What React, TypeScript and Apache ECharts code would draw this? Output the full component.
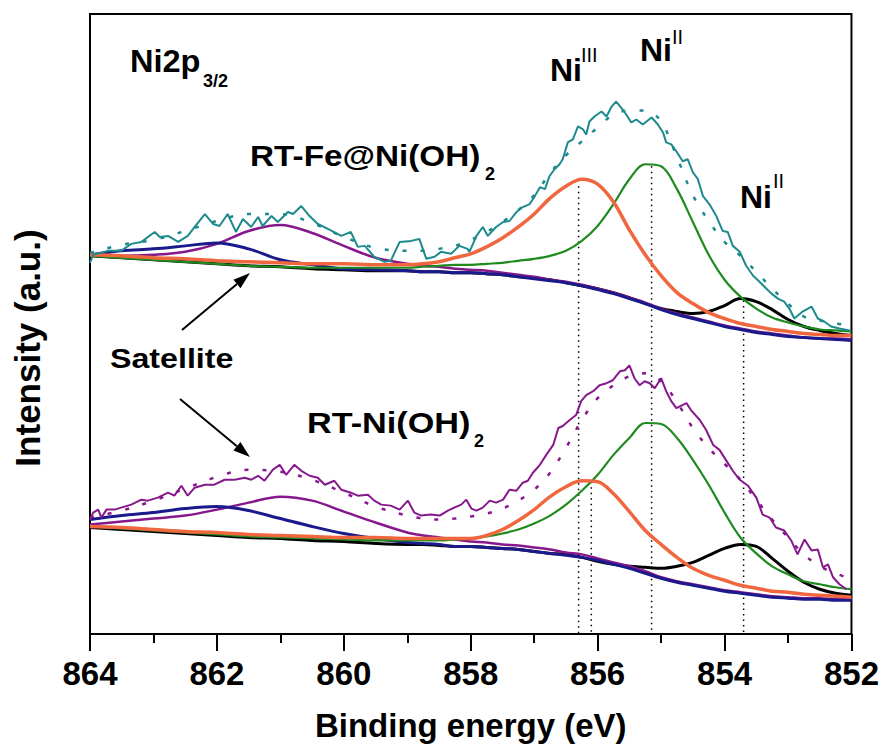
import React, { useEffect, useRef } from 'react';
import * as echarts from 'echarts';

// Shared energy grid (eV) for the fitted component curves
const energyGrid = [
  864, 863.5, 863, 862.5, 862, 861.5, 861, 860.5, 860, 859.5, 859,
  858.75, 858.5, 858.25, 858, 857.75, 857.5, 857.25, 857, 856.75, 856.5, 856.25, 856,
  855.75, 855.5, 855.25, 855, 854.75, 854.5, 854.25, 854, 853.75, 853.5, 853.25, 853,
  852.75, 852.5, 852.25, 852,
];

// RT-Fe@Ni(OH)2 fitted components (peak + background), a.u.
const feSatHigh = [38.1, 38.5, 38.7, 39.0, 39.3, 38.7, 37.6, 37.1, 36.7, 36.6, 36.5, 36.4, 36.4, 36.3, 36.3, 36.2, 36.1, 35.9, 35.7, 35.5, 35.3, 35.0, 34.6, 34.2, 33.7, 33.2, 32.6, 32.1, 31.7, 31.3, 30.9, 30.6, 30.3, 30.1, 29.9, 29.8, 29.7, 29.6, 29.5];
const feNi2Low = [38.0, 37.8, 37.6, 37.4, 37.2, 37.0, 36.9, 36.7, 36.6, 36.5, 36.5, 36.4, 36.4, 36.3, 36.3, 36.2, 36.1, 35.9, 35.8, 35.6, 35.3, 35.0, 34.7, 34.3, 33.8, 33.2, 32.7, 32.4, 32.2, 32.4, 33.0, 33.7, 33.4, 32.6, 31.6, 30.9, 30.5, 30.2, 30.0];
const feNi3 = [38.1, 38.0, 37.8, 37.7, 37.5, 37.4, 37.3, 37.2, 37.2, 37.1, 37.1, 37.2, 37.4, 37.8, 38.2, 38.9, 39.8, 40.9, 42.2, 43.8, 45.0, 45.7, 45.2, 43.4, 40.6, 38.1, 36.0, 34.3, 33.2, 32.3, 31.7, 31.2, 30.9, 30.6, 30.4, 30.2, 30.1, 30.0, 30.0];
const feNi2 = [38.0, 37.8, 37.6, 37.4, 37.2, 37.0, 36.9, 36.8, 36.8, 36.8, 36.8, 36.9, 37.0, 37.1, 37.1, 37.2, 37.3, 37.5, 37.7, 38.0, 38.5, 39.5, 41.0, 43.2, 45.7, 47.2, 47.0, 44.7, 41.4, 38.1, 35.6, 33.9, 32.7, 31.8, 31.3, 30.9, 30.6, 30.5, 30.4];
const feSatLow = [38.0, 38.0, 38.1, 38.4, 39.2, 40.5, 41.1, 40.3, 39.0, 37.8, 37.2, 37.0, 36.9, 36.7, 36.6, 36.5, 36.3, 36.1, 35.9, 35.6, 35.4, 35.1, 34.7, 34.3, 33.8, 33.3, 32.7, 32.2, 31.8, 31.4, 31.0, 30.7, 30.4, 30.2, 30.0, 29.8, 29.7, 29.7, 29.6];
const feEnvelope = [38.3, 39.1, 39.6, 40.5, 41.5, 42.2, 42.2, 41.3, 39.9, 38.8, 38.5, 38.5, 38.7, 39.0, 39.6, 40.4, 41.4, 42.6, 44.1, 46.3, 48.1, 49.5, 50.9, 52.2, 52.6, 52.6, 51.5, 47.9, 44.1, 41.5, 39.4, 38.0, 36.4, 34.7, 33.2, 31.9, 31.5, 31.2, 31.0];

// RT-Ni(OH)2 fitted components (peak + background), a.u.
const niSatHigh = [11.5, 11.9, 12.2, 12.6, 12.8, 12.4, 11.6, 10.8, 10.1, 9.6, 9.2, 9.1, 9.0, 8.8, 8.8, 8.7, 8.6, 8.5, 8.3, 8.1, 7.9, 7.7, 7.4, 7.0, 6.6, 6.1, 5.6, 5.2, 4.9, 4.6, 4.3, 4.1, 3.9, 3.7, 3.6, 3.5, 3.5, 3.4, 3.4];
const niNi2Low = [10.7, 10.5, 10.3, 10.1, 9.9, 9.7, 9.6, 9.4, 9.3, 9.1, 9.0, 9.0, 8.9, 8.8, 8.8, 8.7, 8.6, 8.5, 8.3, 8.1, 8.0, 7.7, 7.3, 7.0, 6.8, 6.7, 6.6, 6.8, 7.2, 7.9, 8.6, 9.0, 8.8, 7.6, 6.3, 5.2, 4.5, 4.1, 3.9];
const niNi3 = [10.8, 10.7, 10.5, 10.3, 10.2, 10.0, 9.9, 9.8, 9.7, 9.7, 9.6, 9.6, 9.6, 9.6, 9.6, 9.9, 10.5, 11.4, 12.5, 13.8, 14.8, 15.4, 15.3, 14.1, 12.3, 10.4, 9.0, 7.7, 6.6, 5.9, 5.4, 4.9, 4.6, 4.3, 4.2, 4.0, 3.9, 3.8, 3.7];
const niNi2 = [10.8, 10.6, 10.4, 10.2, 10.0, 9.8, 9.7, 9.6, 9.5, 9.4, 9.4, 9.4, 9.4, 9.5, 9.6, 9.8, 10.1, 10.5, 11.1, 11.9, 13.0, 14.4, 16.0, 18.0, 19.7, 21.2, 21.1, 19.7, 17.5, 15.0, 12.2, 9.7, 8.1, 6.8, 6.0, 5.3, 5.0, 4.7, 4.5];
const niSatLow = [11.0, 11.3, 11.6, 11.9, 12.5, 13.2, 13.8, 13.4, 12.3, 11.2, 10.2, 9.9, 9.7, 9.5, 9.3, 9.2, 9.0, 8.9, 8.7, 8.5, 8.2, 8.0, 7.6, 7.2, 6.8, 6.3, 5.7, 5.3, 5.0, 4.7, 4.4, 4.2, 4.0, 3.8, 3.7, 3.6, 3.6, 3.5, 3.5];
const niEnvelope = [11.7, 12.4, 13.4, 14.6, 15.8, 16.5, 16.3, 15.5, 14.2, 12.8, 11.9, 11.6, 11.5, 11.6, 11.8, 12.1, 12.6, 13.4, 14.5, 16.2, 18.7, 21.5, 23.7, 25.0, 25.9, 26.2, 25.4, 23.3, 20.7, 18.7, 17.1, 15.5, 13.5, 11.5, 9.7, 8.0, 6.8, 6.1, 5.5];

// Measured spectra
const feRawEnergy = [
  864.00, 863.95, 863.72, 863.51, 863.35, 863.19, 862.98, 862.90, 862.77, 862.61,
  862.46, 862.35, 862.19, 862.06, 861.96, 861.83, 861.70, 861.59, 861.46, 861.35,
  861.28, 861.14, 861.04, 860.88, 860.80, 860.67, 860.54, 860.41, 860.25, 860.04,
  859.89, 859.78, 859.67, 859.52, 859.36, 859.26, 859.12, 858.94, 858.81, 858.70,
  858.57, 858.47, 858.31, 858.18, 858.05, 858.02, 857.91, 857.81, 857.73, 857.60,
  857.49, 857.39, 857.28, 857.18, 857.07, 856.99, 856.91, 856.83, 856.76, 856.68,
  856.60, 856.55, 856.47, 856.39, 856.31, 856.23, 856.18, 856.13, 856.05, 855.94,
  855.86, 855.78, 855.71, 855.63, 855.55, 855.47, 855.39, 855.29, 855.15, 855.05,
  854.97, 854.92, 854.84, 854.76, 854.66, 854.58, 854.50, 854.42, 854.34, 854.24,
  854.13, 854.03, 853.95, 853.87, 853.76, 853.66, 853.55, 853.45, 853.34, 853.26,
  853.16, 853.06, 852.98, 852.90, 852.77, 852.63, 852.53, 852.43, 852.32, 852.19, 852.03,
];
const feRawIntensity = [
  37.3, 38.1, 38.5, 38.5, 39.2, 39.4, 40.4, 39.9, 40.0, 39.4,
  40.0, 40.9, 42.2, 41.2, 41.0, 42.2, 40.4, 41.7, 40.9, 41.9,
  41.0, 42.0, 41.4, 42.4, 42.2, 43.0, 42.0, 41.2, 40.7, 40.0,
  40.4, 38.9, 39.0, 37.9, 37.4, 37.5, 39.4, 39.5, 39.7, 37.7,
  37.9, 38.4, 38.2, 39.0, 38.7, 38.4, 40.0, 40.9, 40.0, 40.9,
  41.4, 41.5, 42.4, 42.9, 43.2, 44.0, 44.9, 44.7, 46.0, 46.7,
  47.2, 47.7, 49.4, 49.7, 51.0, 50.7, 50.2, 51.5, 52.0, 52.5,
  52.0, 53.0, 53.5, 52.9, 52.2, 51.4, 51.7, 51.2, 51.9, 51.2,
  50.4, 49.4, 49.2, 48.5, 47.5, 47.7, 46.4, 45.7, 44.0, 43.2,
  42.0, 40.5, 40.4, 39.0, 38.4, 37.0, 36.0, 35.4, 34.7, 34.2,
  33.7, 33.4, 32.7, 31.7, 32.4, 32.9, 31.7, 31.4, 30.9, 30.7, 30.5,
];
const niRawEnergy = [
  864.00, 863.95, 863.87, 863.82, 863.74, 863.61, 863.51, 863.35, 863.19, 863.09,
  862.93, 862.77, 862.67, 862.56, 862.46, 862.35, 862.19, 862.04, 861.88, 861.72,
  861.56, 861.46, 861.35, 861.25, 861.12, 861.01, 860.91, 860.78, 860.67, 860.54,
  860.41, 860.30, 860.15, 860.04, 859.89, 859.78, 859.62, 859.52, 859.41, 859.26,
  859.12, 858.99, 858.89, 858.78, 858.63, 858.49, 858.36, 858.26, 858.15, 858.07,
  857.99, 857.91, 857.81, 857.70, 857.60, 857.49, 857.39, 857.28, 857.18, 857.10,
  857.02, 856.91, 856.81, 856.70, 856.62, 856.55, 856.44, 856.34, 856.26, 856.18,
  856.07, 855.97, 855.86, 855.76, 855.65, 855.57, 855.50, 855.42, 855.34, 855.26,
  855.18, 855.10, 855.00, 854.92, 854.84, 854.76, 854.60, 854.53, 854.39, 854.29,
  854.18, 854.08, 853.97, 853.87, 853.76, 853.63, 853.50, 853.40, 853.29, 853.19,
  853.06, 852.95, 852.85, 852.74, 852.63, 852.53, 852.45, 852.37, 852.29, 852.19, 852.08,
];
const niRawIntensity = [
  11.5, 12.2, 12.5, 11.7, 12.5, 12.5, 12.7, 13.0, 13.5, 13.4,
  13.7, 14.2, 13.9, 14.9, 13.9, 14.7, 15.0, 15.0, 15.5, 15.5,
  15.7, 15.5, 15.9, 15.4, 16.5, 17.0, 16.0, 17.0, 16.4, 15.9,
  15.7, 15.0, 15.4, 14.5, 14.2, 13.9, 14.0, 13.4, 13.0, 12.9,
  12.5, 13.4, 12.2, 11.9, 12.0, 11.9, 12.4, 12.7, 13.0, 13.5,
  12.6, 12.4, 12.7, 13.4, 13.2, 13.5, 14.5, 14.4, 15.2, 15.4,
  16.2, 17.0, 18.0, 19.0, 20.7, 20.9, 21.5, 22.0, 23.4, 24.0,
  24.4, 25.0, 25.2, 25.5, 26.4, 26.5, 27.0, 25.7, 25.0, 25.4,
  25.2, 24.7, 25.7, 24.4, 23.4, 22.7, 23.2, 22.5, 21.5, 20.5,
  19.0, 18.5, 17.4, 16.4, 15.5, 14.9, 13.7, 12.0, 11.7, 10.7,
  10.4, 9.4, 8.0, 9.5, 8.4, 8.5, 6.7, 7.0, 5.7, 5.0, 4.5,
];

// Peak positions (eV) with the intensity where each guide line starts
const guideEnergies = [856.3, 855.15, 853.7, 856.1];
const guideTops = [45.0, 47.0, 33.5, 15.3];

const C = {
  teal: '#1d8a8c',
  purple: '#86188c',
  navy: '#1a1a8c',
  orange: '#f0663f',
  green: '#1f8b1f',
  black: '#000000',
};
const FONT = "'Liberation Sans', Arial, Helvetica, sans-serif";

const zip = (xs: number[], ys: number[]) => xs.map((x, i) => [x, ys[i]]);

const fitLine = (name: string, values: number[], color: string, width: number) => ({
  name,
  type: 'line',
  data: zip(energyGrid, values),
  smooth: 0.35,
  symbol: 'none',
  lineStyle: { color, width },
  silent: true,
});

const rawLine = (name: string, xs: number[], ys: number[], color: string) => ({
  name,
  type: 'line',
  data: zip(xs, ys),
  symbol: 'none',
  lineStyle: { color, width: 2 },
  silent: true,
});

const envelopeLine = (name: string, values: number[], color: string) => ({
  name,
  type: 'line',
  data: zip(energyGrid, values),
  smooth: 0.35,
  symbol: 'none',
  lineStyle: { color, width: 2.5, type: [4, 14] },
  silent: true,
});

const label = (text: string, x: number, y: number, size: number, opts: any = {}) => ({
  type: 'text',
  x,
  y,
  scaleX: opts.scaleX ?? 1,
  rotation: opts.rotation ?? 0,
  style: {
    text,
    font: `${opts.weight ?? 'bold'} ${size}px ${FONT}`,
    fill: '#000',
    align: opts.align ?? 'left',
    textAlign: opts.align ?? 'left',
    verticalAlign: 'middle',
    textVerticalAlign: 'middle',
  },
});

const arrow = (x1: number, y1: number, x2: number, y2: number) => {
  const dx = x2 - x1;
  const dy = y2 - y1;
  const len = Math.hypot(dx, dy);
  const ux = dx / len;
  const uy = dy / len;
  const head = 17;
  const half = 5.5;
  const bx = x2 - ux * head;
  const by = y2 - uy * head;
  return [
    { type: 'line', shape: { x1, y1, x2: bx, y2: by }, style: { stroke: '#000', lineWidth: 2 } },
    {
      type: 'polygon',
      shape: { points: [[x2, y2], [bx - uy * half, by + ux * half], [bx + uy * half, by - ux * half]] },
      style: { fill: '#000' },
    },
  ];
};

export default function App() {
  const ref = useRef<HTMLDivElement>(null);

  useEffect(() => {
    document.body.style.margin = '0';
    const chart = echarts.init(ref.current!, null, { renderer: 'svg' });

    const guides = guideEnergies.map((e, i) => ({
      name: `guide-${i}`,
      type: 'line',
      data: [[e, guideTops[i]], [e, 0]],
      symbol: 'none',
      lineStyle: { color: '#000', width: 1.5, type: [1.5, 4] },
      silent: true,
    }));

    const option: any = {
      animation: false,
      backgroundColor: '#fff',
      grid: { left: 90, right: 30, top: 14, bottom: 110, show: true, borderColor: '#000', borderWidth: 2, backgroundColor: 'transparent' },
      xAxis: {
        type: 'value',
        min: 852,
        max: 864,
        interval: 2,
        inverse: true,
        axisLine: { onZero: false, lineStyle: { color: '#000', width: 2 } },
        axisTick: { length: 17, lineStyle: { color: '#000', width: 2 } },
        minorTick: { show: true, splitNumber: 2, length: 9, lineStyle: { color: '#000', width: 2 } },
        splitLine: { show: false },
        minorSplitLine: { show: false },
        axisLabel: { color: '#000', fontSize: 33, fontWeight: 'bold', fontFamily: FONT, margin: 23, showMinLabel: true, showMaxLabel: true },
        name: 'Binding energy (eV)',
        nameLocation: 'middle',
        nameGap: 75,
        nameTextStyle: { color: '#000', fontSize: 33, fontWeight: 'bold', fontFamily: FONT },
      },
      yAxis: {
        type: 'value',
        min: 0,
        max: 62.3,
        axisLine: { show: true, onZero: false, lineStyle: { color: '#000', width: 2 } },
        axisTick: { show: false },
        axisLabel: { show: false },
        splitLine: { show: false },
      },
      series: [
        ...guides,
        fitLine('Fe Ni(II) shoulder', feNi2Low, C.black, 3),
        fitLine('Fe satellite low', feSatLow, C.purple, 2.5),
        fitLine('Fe satellite high', feSatHigh, C.navy, 3),
        fitLine('Fe Ni(II)', feNi2, C.green, 2.2),
        fitLine('Fe Ni(III)', feNi3, C.orange, 3.5),
        rawLine('RT-Fe@Ni(OH)2', feRawEnergy, feRawIntensity, C.teal),
        envelopeLine('Fe envelope', feEnvelope, C.teal),
        fitLine('Ni Ni(II) shoulder', niNi2Low, C.black, 3),
        fitLine('Ni satellite low', niSatLow, C.purple, 2.5),
        fitLine('Ni satellite high', niSatHigh, C.navy, 3),
        fitLine('Ni Ni(II)', niNi2, C.green, 2.2),
        fitLine('Ni Ni(III)', niNi3, C.orange, 3.5),
        rawLine('RT-Ni(OH)2', niRawEnergy, niRawIntensity, C.purple),
        envelopeLine('Ni envelope', niEnvelope, C.purple),
      ],
      graphic: [
        label('Intensity (a.u.)', 27, 348, 35, { rotation: Math.PI / 2, align: 'center' }),
        label('Ni2p', 130, 61.5, 31, { scaleX: 1.05 }),
        label('3/2', 203, 81, 18),
        label('RT-Fe@Ni(OH)', 250, 156, 30, { scaleX: 1.11 }),
        label('2', 485, 174, 18),
        label('RT-Ni(OH)', 307, 423, 29, { scaleX: 1.18 }),
        label('2', 474, 441, 18),
        label('Satellite', 110, 358, 28, { scaleX: 1.15 }),
        label('Ni', 550, 70, 32),
        label('III', 581, 55, 20, { weight: 'normal' }),
        label('Ni', 640, 49.5, 32),
        label('II', 672, 37, 20, { weight: 'normal' }),
        label('Ni', 740, 197, 32),
        label('II', 773, 181, 20, { weight: 'normal' }),
        ...arrow(182, 330, 250, 273),
        ...arrow(180, 399, 250, 457),
      ],
    };

    chart.setOption(option);
    return () => chart.dispose();
  }, []);

  return <div ref={ref} style={{ width: 882, height: 747 }} />;
}
